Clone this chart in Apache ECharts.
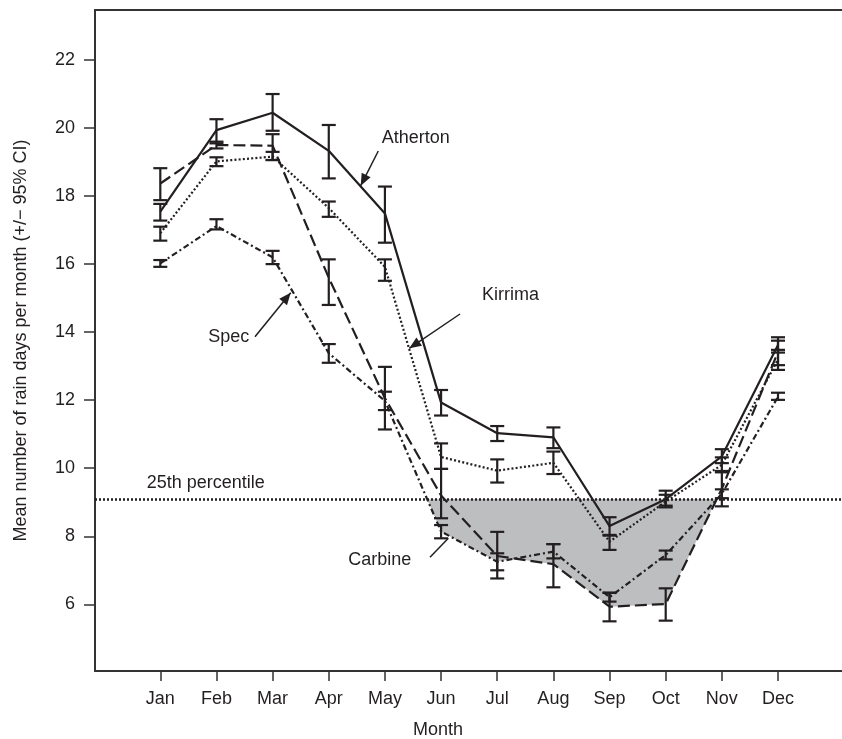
<!DOCTYPE html>
<html>
<head>
<meta charset="utf-8">
<script src="https://cdn.jsdelivr.net/npm/echarts@6/dist/echarts.min.js"></script>
<style>
  html, body { margin: 0; padding: 0; background: #fff; }
  #chart { width: 842px; height: 739px; }
</style>
</head>
<body>
<div id="chart"></div>
<script>
// ---------------- data ----------------
const months = ['Jan','Feb','Mar','Apr','May','Jun','Jul','Aug','Sep','Oct','Nov','Dec'];
const yTickValues = [6, 8, 10, 12, 14, 16, 18, 20, 22];
const percentile25 = 9.09;

const athertonMean = [17.54, 19.94, 20.45, 19.33, 17.49, 11.93, 11.03, 10.91, 8.30, 9.09, 10.35, 13.62];
const athertonLow  = [17.28, 19.55, 19.92, 18.52, 16.63, 11.55, 10.80, 10.59, 8.04, 8.85, 10.15, 13.40];
const athertonHigh = [17.77, 20.26, 21.00, 20.09, 18.28, 12.30, 11.24, 11.20, 8.56, 9.34, 10.56, 13.85];

const kirrimaMean = [16.91, 19.02, 19.16, 17.65, 15.92, 10.33, 9.93, 10.16, 7.84, 9.02, 10.10, 13.20];
const kirrimaLow  = [16.69, 18.88, 19.06, 17.39, 15.51, 9.98, 9.58, 9.83, 7.60, 8.90, 9.88, 12.89];
const kirrimaHigh = [17.10, 19.14, 19.30, 17.84, 16.14, 10.73, 10.26, 10.49, 8.02, 9.22, 10.32, 13.48];

const carbineMean = [18.37, 19.50, 19.48, 15.60, 12.06, 9.20, 7.42, 7.18, 5.93, 6.01, 9.40, 13.42];
const carbineLow  = [17.88, 19.40, 19.06, 14.80, 11.14, 8.53, 6.76, 6.50, 5.50, 5.52, 8.88, 13.03];
const carbineHigh = [18.82, 19.60, 19.82, 16.14, 12.98, 9.98, 8.13, 7.77, 6.34, 6.47, 9.92, 13.75];

const specMean = [16.02, 17.12, 16.20, 13.38, 11.98, 8.14, 7.25, 7.55, 6.21, 7.45, 9.25, 12.10];
const specLow  = [15.92, 17.02, 16.00, 13.10, 11.71, 7.94, 7.00, 7.35, 6.08, 7.32, 9.12, 12.01];
const specHigh = [16.12, 17.32, 16.39, 13.65, 12.25, 8.33, 7.50, 7.77, 6.34, 7.58, 9.38, 12.22];

// ---------------- layout / style ----------------
const INK = '#231f20';
const AXIS = '#333333';
const FONT = '"Liberation Sans", Arial, Helvetica, sans-serif';
const XMIN = -0.1629, XMAX = 13.1396;
const YMIN = 4.040, YMAX = 23.470;

const sites = [
  { name: 'Atherton', mean: athertonMean, low: athertonLow, high: athertonHigh, dash: 'solid' },
  { name: 'Kirrima',  mean: kirrimaMean,  low: kirrimaLow,  high: kirrimaHigh,  dash: [2, 2.2] },
  { name: 'Carbine',  mean: carbineMean,  low: carbineLow,  high: carbineHigh,  dash: [12, 5] },
  { name: 'Spec',     mean: specMean,     low: specLow,     high: specHigh,     dash: [6, 3, 2, 3] }
];

// annotation placement (data coordinates)
const annotations = [
  { text: 'Atherton', at: [4.943, 19.72], from: [4.882, 19.325], to: [4.569, 18.305], head: true },
  { text: 'Kirrima',  at: [6.729, 15.08], from: [6.337, 14.534], to: [5.434, 13.525], head: true },
  { text: 'Spec',     at: [1.855, 13.87], from: [2.686, 13.866], to: [3.322, 15.160], head: true },
  { text: 'Carbine',  at: [4.348, 7.30],  from: [5.803, 7.382],  to: [6.129, 7.940],  head: false },
  { text: '25th percentile', at: [0.758, 9.56] }
];

// ---------------- series ----------------
const lineSeries = sites.map(s => ({
  name: s.name,
  type: 'line',
  data: s.mean.map((v, i) => [i + 1, v]),
  symbol: 'none',
  z: 3,
  lineStyle: { color: INK, width: 2.2, type: s.dash },
  emphasis: { disabled: true }
}));

const errData = [];
sites.forEach(s => s.mean.forEach((v, i) => errData.push([i + 1, s.low[i], s.high[i]])));

const errorSeries = {
  type: 'custom',
  z: 4,
  data: errData,
  encode: { x: 0, y: [1, 2] },
  renderItem: function (params, api) {
    const x = api.value(0);
    const p1 = api.coord([x, api.value(1)]);
    const p2 = api.coord([x, api.value(2)]);
    const w = 7;
    const st = { stroke: INK, lineWidth: 2.2 };
    return {
      type: 'group',
      children: [
        { type: 'line', shape: { x1: p1[0], y1: p1[1], x2: p2[0], y2: p2[1] }, style: st },
        { type: 'line', shape: { x1: p1[0] - w, y1: p1[1], x2: p1[0] + w, y2: p1[1] }, style: st },
        { type: 'line', shape: { x1: p2[0] - w, y1: p2[1], x2: p2[0] + w, y2: p2[1] }, style: st }
      ]
    };
  }
};

function clippedBelow(means, P) {
  const pts = [[1, Math.min(means[0], P)]];
  for (let i = 0; i < means.length - 1; i++) {
    const y0 = means[i], y1 = means[i + 1];
    if ((y0 - P) * (y1 - P) < 0) {
      const t = (P - y0) / (y1 - y0);
      pts.push([i + 1 + t, P]);
    }
    pts.push([i + 2, Math.min(y1, P)]);
  }
  pts.push([means.length, P]);
  pts.push([1, P]);
  return pts;
}

const fillSeries = {
  type: 'custom',
  z: 1,
  data: [[1, percentile25]],
  encode: { x: 0, y: 1 },
  renderItem: function (params, api) {
    const children = sites.map(s => ({
      type: 'polygon',
      shape: { points: clippedBelow(s.mean, percentile25).map(p => api.coord(p)) },
      style: { fill: '#bdbec0', stroke: null }
    }));
    return { type: 'group', children };
  },
  markLine: {
    silent: true,
    symbol: 'none',
    label: { show: false },
    lineStyle: { color: INK, width: 2.5, type: [2, 2] },
    data: [{ yAxis: percentile25 }],
    z: 5
  }
};

const annotSeries = {
  type: 'custom',
  z: 6,
  data: [[1, percentile25]],
  encode: { x: 0, y: 1 },
  renderItem: function (params, api) {
    const children = [];
    annotations.forEach(a => {
      const p = api.coord(a.at);
      children.push({
        type: 'text', x: p[0], y: p[1],
        style: { text: a.text, fontSize: 18, fontFamily: FONT, fill: INK, align: 'left', verticalAlign: 'middle' }
      });
      if (a.from) {
        const f = api.coord(a.from), t = api.coord(a.to);
        children.push({ type: 'line', shape: { x1: f[0], y1: f[1], x2: t[0], y2: t[1] }, style: { stroke: INK, lineWidth: 1.5 } });
        if (a.head) {
          const dx = t[0] - f[0], dy = t[1] - f[1], L = Math.hypot(dx, dy);
          const ux = dx / L, uy = dy / L;
          const bx = t[0] - ux * 12, by = t[1] - uy * 12;
          children.push({
            type: 'polygon',
            shape: { points: [[t[0], t[1]], [bx - uy * 5, by + ux * 5], [bx + uy * 5, by - ux * 5]] },
            style: { fill: INK }
          });
        }
      }
    });
    return { type: 'group', children };
  }
};

const xTickValues = months.map((m, i) => i + 1);

const option = {
  animation: false,
  backgroundColor: '#ffffff',
  grid: { left: 95, right: 0, top: 10, bottom: 68 },
  xAxis: [{
    type: 'value', min: XMIN, max: XMAX, position: 'bottom',
    splitLine: { show: false },
    axisLine: { show: true, onZero: false, lineStyle: { color: AXIS, width: 2 } },
    axisTick: { show: true, customValues: xTickValues, length: 10, lineStyle: { color: AXIS, width: 1.5 } },
    axisLabel: {
      customValues: xTickValues, margin: 19, fontSize: 18, fontFamily: FONT, color: INK,
      formatter: v => months[Math.round(v) - 1]
    }
  }, {
    type: 'value', min: XMIN, max: XMAX, position: 'top',
    splitLine: { show: false },
    axisLine: { show: true, onZero: false, lineStyle: { color: AXIS, width: 2 } },
    axisTick: { show: false },
    axisLabel: { show: false }
  }],
  yAxis: {
    type: 'value', min: YMIN, max: YMAX,
    splitLine: { show: false },
    axisLine: { show: true, onZero: false, lineStyle: { color: AXIS, width: 2 } },
    axisTick: { show: true, customValues: yTickValues, length: 11, lineStyle: { color: AXIS, width: 1.5 } },
    axisLabel: { customValues: yTickValues, margin: 20, fontSize: 18, fontFamily: FONT, color: INK }
  },
  graphic: [
    {
      type: 'text', x: 21, y: 340.5, rotation: Math.PI / 2,
      style: { text: 'Mean number of rain days per month (+/\u2212 95% CI)', fontSize: 18, fontFamily: FONT, fill: INK, align: 'center', verticalAlign: 'middle' }
    },
    {
      type: 'text', x: 438, y: 730,
      style: { text: 'Month', fontSize: 18, fontFamily: FONT, fill: INK, align: 'center', verticalAlign: 'middle' }
    }
  ],
  series: [fillSeries].concat(lineSeries, [errorSeries, annotSeries])
};

const chart = echarts.init(document.getElementById('chart'), null, { renderer: 'canvas' });
chart.setOption(option);
</script>
</body>
</html>
